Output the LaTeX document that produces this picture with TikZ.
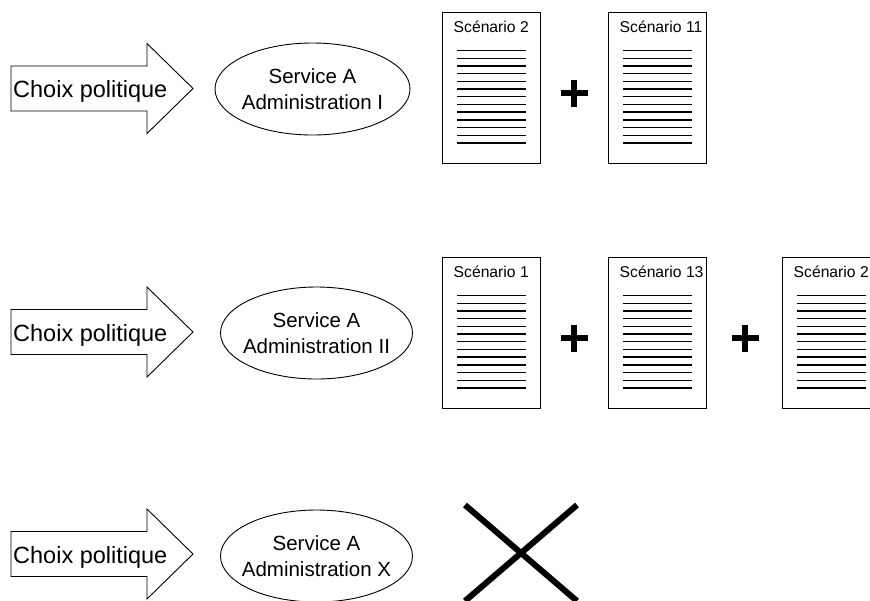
\documentclass[tikz,border=0pt]{standalone}
\usepackage{fontspec}
\setmainfont{Liberation Sans}
\begin{document}
\begin{tikzpicture}[x=1pt,y=-1pt,
  outline/.style={draw=black,line width=0.9pt},
  rulestyle/.style={line width=1.4pt},
  bigtxt/.style={font=\fontsize{23.5}{28}\selectfont,inner sep=0pt},
  elltxt/.style={font=\fontsize{20.5}{26.5}\selectfont,align=center,inner sep=0pt},
  doctxt/.style={font=\fontsize{15.7}{18}\selectfont,inner sep=0pt,anchor=base west},
  plussign/.style={line width=5.5pt},
  crossmark/.style={line width=6pt}]
\useasboundingbox (0,0) rectangle (870,600);
\clip (0,0) rectangle (870,600);

\newcommand\politique[2]{%
  \draw[outline] (11,#2-22.5) -- (147,#2-22.5) -- (147,#2-45) -- (193,#2)
    -- (147,#2+45) -- (147,#2+22.5) -- (11,#2+22.5) -- cycle;
  \node[bigtxt,anchor=base west] (#1) at (13,#2+9) {Choix politique};
}
\newcommand\servicenode[5]{% name, cx, cy, rx, text
  \draw[outline] (#2,#3) ellipse [x radius=#4pt, y radius=46pt];
  \node[elltxt] (#1) at (#2,#3) {#5};
}
\newcommand\scen[4]{% name, left, top, title
  \draw[outline] (#2,#3) rectangle (#2+98,#3+151);
  \node[doctxt] (#1) at (#2+11.5,#3+20.5) {#4};
  \foreach \k in {0,...,12}
    \draw[rulestyle] (#2+15,#3+38.5+7.7*\k) -- (#2+84,#3+38.5+7.7*\k);
}
\newcommand\plusmark[2]{%
  \draw[plussign] (#1-13.5,#2) -- (#1+13.5,#2) (#1,#2-13.5) -- (#1,#2+13.5);
}

% Row 1
\politique{cp1}{88.5}
\servicenode{sa1}{312.5}{89}{97.5}{Service A\\Administration I}
\scen{s1a}{442}{12}{Scénario 2}
\plusmark{574}{93}
\scen{s1b}{608}{12}{Scénario 11}

% Row 2
\politique{cp2}{332}
\servicenode{sa2}{316.5}{333}{96}{Service A\\Administration II}
\scen{s2a}{442}{257}{Scénario 1}
\plusmark{574}{338}
\scen{s2b}{608}{257}{Scénario 13}
\plusmark{745}{338}
\scen{s2c}{782}{257}{Scénario 2}

% Row 3
\politique{cp3}{554}
\servicenode{sa3}{316.5}{556}{96}{Service A\\Administration X}
\draw[crossmark] (465,505) -- (577,601);
\draw[crossmark] (577,505) -- (465,601);
\end{tikzpicture}
\end{document}
